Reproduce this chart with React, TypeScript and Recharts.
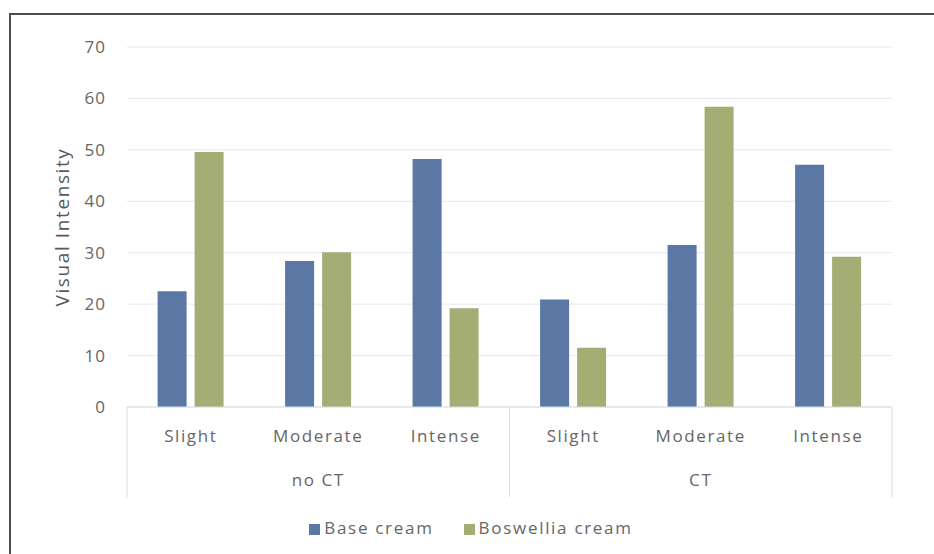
import { Bar, BarChart, CartesianGrid, Legend, XAxis, YAxis } from "recharts";

const groups = ["no CT", "CT"];
const levels = ["Slight", "Moderate", "Intense"];
const baseCream = [22.5, 28.4, 48.2, 20.9, 31.5, 47.1];
const boswelliaCream = [49.6, 30.1, 19.2, 11.5, 58.4, 29.2];
const yTicks = [0, 10, 20, 30, 40, 50, 60, 70];

const data = groups.flatMap((g, gi) =>
    levels.map((l, li) => ({
        key: `${g}-${l}`,
        level: l,
        group: g,
        base: baseCream[gi * levels.length + li],
        boswellia: boswelliaCream[gi * levels.length + li],
    }))
);

const BLUE = "#5b77a3";
const GREEN = "#a4ad74";
const FONT = "'Open Sans', sans-serif";
const TEXT = "#666";

const PLOT_LEFT = 127;
const PLOT_RIGHT = 892;
const BAND = (PLOT_RIGHT - PLOT_LEFT) / data.length;

const CategoryTick = (props: any) => {
    const { x, y, index } = props;
    const row = data[index];
    if (!row) return null;
    const li = index % levels.length;
    const lineColor = "#d6dee8";
    return (
        <g>
            <text x={x} y={y + 35} textAnchor="middle" fontSize={17} letterSpacing={1.6} fill={TEXT} fontFamily={FONT}>
                {row.level}
            </text>
            {li === 0 && (
                <line x1={x - BAND / 2} x2={x - BAND / 2} y1={y} y2={y + 90} stroke={lineColor} />
            )}
            {li === 1 && (
                <text x={x} y={y + 79} textAnchor="middle" fontSize={17} letterSpacing={1.6} fill={TEXT} fontFamily={FONT}>
                    {row.group}
                </text>
            )}
            {index === data.length - 1 && (
                <line x1={x + BAND / 2} x2={x + BAND / 2} y1={y} y2={y + 90} stroke={lineColor} />
            )}
        </g>
    );
};

export default function App() {
    return (
        <div style={{ position: "absolute", left: 0, top: 0, width: 934, height: 554, overflow: "hidden", background: "#fff" }}>
            <div
                style={{
                    position: "absolute",
                    left: 9,
                    top: 13,
                    width: 960,
                    height: 580,
                    border: "2px solid #4d4d4d",
                }}
            />
            <div style={{ position: "absolute", left: 0, top: 0 }}>
                <BarChart
                    width={934}
                    height={554}
                    data={data}
                    margin={{ top: 47, right: 934 - PLOT_RIGHT, left: PLOT_LEFT - 60, bottom: 554 - 407 - 90 }}
                    barGap={8}
                    barCategoryGap="24%"
                >
                    <CartesianGrid vertical={false} stroke="#e3e9f0" />
                    <XAxis
                        dataKey="key"
                        height={90}
                        tick={<CategoryTick />}
                        tickLine={false}
                        tickSize={0}
                        tickMargin={0}
                        interval={0}
                        axisLine={{ stroke: "#d6dee8" }}
                    />
                    <YAxis
                        width={60}
                        domain={[0, 70]}
                        ticks={yTicks}
                        axisLine={false}
                        tickLine={false}
                        tickSize={0}
                        tickMargin={21}
                        tick={{ fontSize: 17, fill: TEXT, fontFamily: FONT, letterSpacing: 1 }}
                        label={{
                            value: "Visual Intensity",
                            angle: -90,
                            position: "insideLeft",
                            dx: -10,
                            style: { fontSize: 19, fill: "#595959", fontFamily: FONT, textAnchor: "middle", letterSpacing: 1.6 },
                        }}
                    />
                    <Legend
                        layout="horizontal"
                        verticalAlign="middle"
                        align="center"
                        iconType="square"
                        iconSize={11}
                        wrapperStyle={{ top: 516, left: 306, width: 340, fontFamily: FONT, fontSize: 17, letterSpacing: 1.7 }}
                        formatter={(value: string, _entry: any, index: number) => (
                            <span style={{ color: TEXT, marginRight: index === 0 ? 20 : 0 }}>{value}</span>
                        )}
                    />
                    <Bar dataKey="base" name="Base cream" fill={BLUE} isAnimationActive={false} />
                    <Bar dataKey="boswellia" name="Boswellia cream" fill={GREEN} isAnimationActive={false} />
                </BarChart>
            </div>
        </div>
    );
}
